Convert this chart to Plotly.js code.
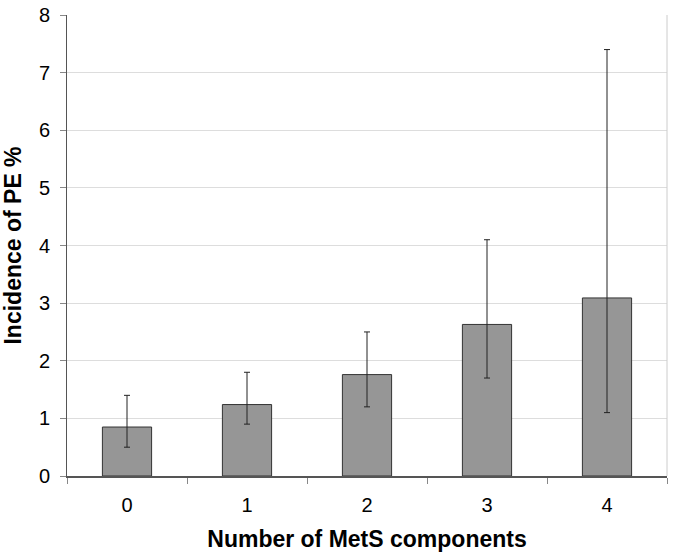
<!DOCTYPE html>
<html>
<head>
<meta charset="utf-8">
<script src="https://cdn.plot.ly/plotly-3.0.1.min.js"></script>
<style>
  html, body { margin: 0; padding: 0; background: #fff; }
  #plot { width: 675px; height: 557px; }
</style>
</head>
<body>
<div id="plot"></div>
<script>
// Incidence of PE by number of MetS components
const components = ['0', '1', '2', '3', '4'];
const incidence = [0.85, 1.24, 1.76, 2.63, 3.09];
const ciUpper = [1.4, 1.8, 2.5, 4.1, 7.4];
const ciLower = [0.5, 0.9, 1.2, 1.7, 1.1];

const errPlus = incidence.map((v, i) => ciUpper[i] - v);
const errMinus = incidence.map((v, i) => v - ciLower[i]);

const trace = {
    type: 'bar',
    x: components,
    y: incidence,
    width: 0.41,
    marker: { color: '#969696', line: { color: '#333333', width: 1 } },
    error_y: {
        type: 'data',
        symmetric: false,
        array: errPlus,
        arrayminus: errMinus,
        color: '#222222',
        thickness: 1,
        width: 3
    },
    hoverinfo: 'none'
};

const layout = {
    width: 675,
    height: 557,
    margin: { l: 67, r: 8, t: 15, b: 81 },
    paper_bgcolor: '#ffffff',
    plot_bgcolor: '#ffffff',
    font: { family: '"Liberation Sans", Arial, sans-serif', color: '#000' },
    showlegend: false,
    xaxis: {
        type: 'category',
        tickson: 'boundaries',
        ticks: 'outside',
        ticklen: 6,
        tickcolor: '#888888',
        showline: true,
        linecolor: '#555555',
        linewidth: 2,
        showgrid: false,
        tickfont: { size: 20 },
        ticklabelstandoff: 10,
        title: { text: 'Number of MetS components', font: { size: 23, weight: 'bold' }, standoff: 16 }
    },
    yaxis: {
        range: [0, 8],
        dtick: 1,
        ticks: 'outside',
        ticklen: 6,
        tickcolor: '#888888',
        showline: true,
        linecolor: '#555555',
        linewidth: 1,
        showgrid: true,
        gridcolor: '#dddddd',
        zeroline: false,
        tickfont: { size: 20 },
        ticklabelstandoff: 6,
        title: { text: 'Incidence of PE %', font: { size: 23, weight: 'bold' }, standoff: 10 }
    },
    shapes: [
        { type: 'line', xref: 'paper', yref: 'paper', x0: 1, x1: 1, y0: 0, y1: 1,
          line: { color: '#cccccc', width: 1 } }
    ]
};

Plotly.newPlot('plot', [trace], layout, { displayModeBar: false, staticPlot: true });
</script>
</body>
</html>
